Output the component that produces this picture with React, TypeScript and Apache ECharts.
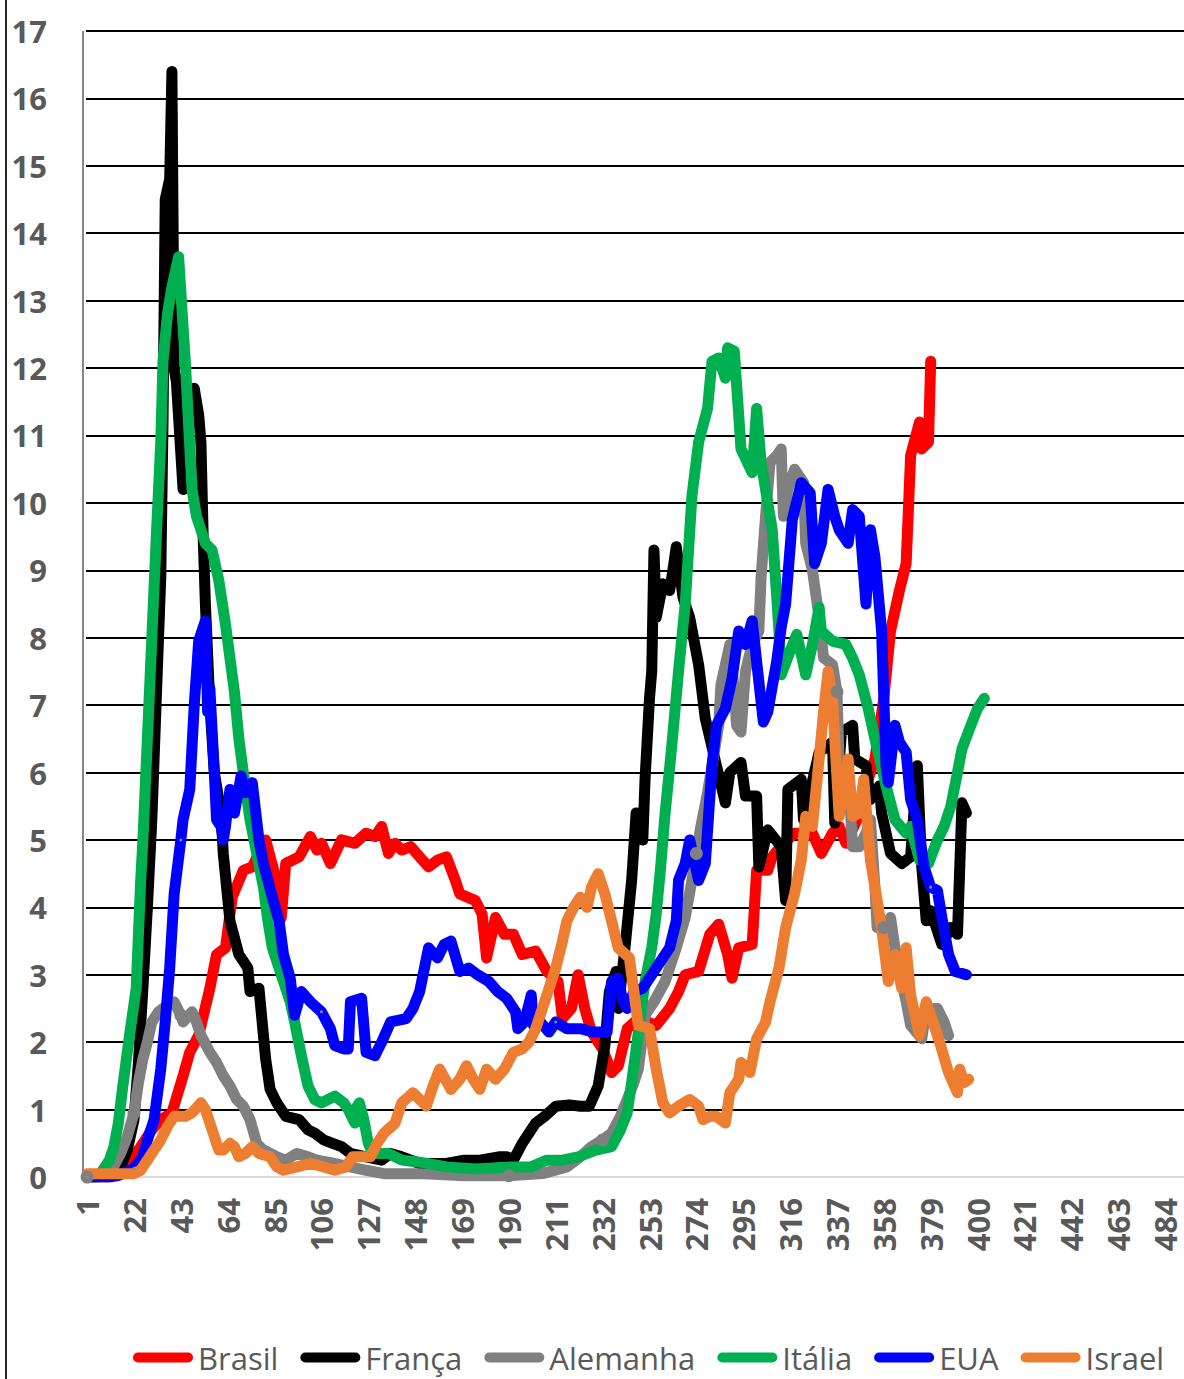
import React, { useEffect, useRef } from "react";
import * as echarts from "echarts";

// Category axis: day numbers
const dayCount = 492;
const categories: string[] = Array.from({ length: dayCount }, (_, i) => String(i + 1));
const yMax = 17;

// [day, value] pairs
const brasil: number[][] = [
  [1, 0], [12, 0], [18, 0.1], [22, 0.3], [25, 0.45], [30, 0.7], [34, 0.85], [39, 0.95], [44, 1.5], [47, 1.85],
  [51, 2.1], [56, 2.8], [59, 3.3], [63, 3.4], [66, 4.15], [71, 4.55], [75, 4.6], [81, 5.0], [85, 4.5], [88, 3.85],
  [90, 4.65], [96, 4.75], [101, 5.05], [104, 4.85], [106, 4.95], [110, 4.65], [115, 5.0], [121, 4.95], [126, 5.1],
  [130, 5.05], [133, 5.2], [136, 4.8], [139, 4.95], [142, 4.85], [146, 4.9], [150, 4.75], [154, 4.6], [158, 4.7],
  [162, 4.75], [166, 4.4], [168, 4.2], [175, 4.1], [178, 3.9], [180, 3.25], [184, 3.85], [188, 3.6], [192, 3.6],
  [196, 3.3], [202, 3.35], [207, 3.05], [212, 2.9], [214, 2.35], [218, 2.5], [221, 3.0], [224, 2.5], [227, 2.15],
  [232, 1.9], [236, 1.55], [239, 1.65], [243, 2.2], [248, 2.35], [252, 2.3], [256, 2.25], [262, 2.5], [266, 2.75],
  [269, 3.0], [275, 3.05], [280, 3.6], [284, 3.75], [288, 3.3], [290, 2.95], [293, 3.4], [299, 3.45], [301, 4.55],
  [306, 4.55], [308, 4.75], [313, 4.95], [318, 5.1], [326, 5.1], [330, 4.8], [335, 5.1], [338, 5.2], [341, 4.95],
  [346, 5.3], [350, 5.8], [354, 6.2], [358, 7.1], [361, 8.1], [365, 8.7], [368, 9.1], [370, 10.7], [374, 11.2],
  [375, 10.8], [378, 10.9], [379, 12.1],
];

const franca: number[][] = [
  [1, 0], [11, 0], [16, 0.15], [19, 0.4], [22, 0.85], [24, 1.7], [26, 2.8], [28, 4.0], [30, 5.3], [32, 7.1],
  [34, 8.9], [35, 11.2], [36, 14.5], [38, 14.8], [39, 16.4], [40, 12.0], [41, 11.8], [44, 10.2], [46, 11.6],
  [49, 11.7], [51, 11.3], [52, 10.9], [53, 9.5], [54, 8.5], [56, 7.0], [58, 6.0], [61, 5.4], [62, 4.8], [65, 3.8],
  [69, 3.3], [73, 3.1], [74, 2.75], [78, 2.8], [81, 1.75], [83, 1.3], [86, 1.1], [90, 0.9], [96, 0.85], [100, 0.7],
  [103, 0.65], [107, 0.55], [111, 0.5], [115, 0.45], [119, 0.35], [126, 0.3], [133, 0.25], [137, 0.35], [142, 0.3],
  [150, 0.2], [162, 0.2], [170, 0.25], [177, 0.25], [186, 0.3], [189, 0.3], [192, 0.25], [196, 0.5], [202, 0.8],
  [206, 0.9], [211, 1.05], [217, 1.07], [222, 1.05], [226, 1.05], [230, 1.35], [233, 1.95], [235, 2.75], [238, 3.05],
  [239, 2.5], [242, 3.4], [245, 4.4], [247, 5.4], [250, 5.0], [251, 5.9], [253, 7.1], [254, 7.5], [255, 9.3],
  [256, 8.3], [259, 8.8], [262, 8.7], [263, 8.9], [265, 9.35], [268, 8.6], [271, 8.3], [275, 7.6], [278, 6.8],
  [283, 6.1], [287, 5.55], [289, 6.0], [294, 6.15], [296, 5.65], [301, 5.65], [302, 4.6], [306, 5.15], [312, 4.9],
  [314, 4.1], [315, 5.75], [321, 5.9], [322, 5.3], [329, 6.3], [335, 6.45], [336, 5.25], [339, 6.6], [344, 6.7],
  [345, 6.2], [350, 6.1], [352, 5.6], [356, 5.8], [357, 5.4], [361, 4.8], [366, 4.65], [370, 4.75], [373, 6.1],
  [375, 4.6], [377, 3.8], [379, 3.95], [384, 3.45], [388, 3.7], [391, 3.6], [393, 5.55], [395, 5.4],
];

const alemanha: number[][] = [
  [1, 0], [12, 0.1], [16, 0.35], [19, 0.6], [22, 0.95], [24, 1.4], [26, 1.75], [28, 2.0], [30, 2.3], [33, 2.45],
  [35, 2.5], [40, 2.6], [43, 2.4], [44, 2.3], [48, 2.45], [50, 2.3], [52, 2.1], [56, 1.85], [59, 1.7], [62, 1.5],
  [65, 1.35], [68, 1.15], [71, 1.05], [74, 0.85], [77, 0.5], [80, 0.4], [86, 0.3], [90, 0.25], [95, 0.35], [100, 0.3],
  [104, 0.25], [112, 0.2], [119, 0.15], [126, 0.1], [134, 0.05], [150, 0.05], [170, 0.02], [190, 0.02], [205, 0.05],
  [216, 0.15], [222, 0.3], [227, 0.45], [232, 0.55], [236, 0.65], [240, 0.9], [243, 1.15], [246, 1.4], [248, 1.6],
  [251, 2.4], [255, 2.6], [260, 2.9], [265, 3.4], [269, 3.85], [272, 4.4], [274, 4.8], [276, 5.2], [279, 5.7],
  [281, 6.1], [284, 6.7], [285, 7.3], [287, 7.6], [289, 7.9], [291, 7.2], [292, 6.7], [294, 6.6], [296, 7.5],
  [299, 7.9], [302, 8.1], [303, 8.9], [305, 9.8], [307, 10.6], [310, 10.7], [312, 10.8], [313, 9.8], [315, 10.2],
  [318, 10.5], [322, 10.3], [323, 9.4], [326, 9.0], [329, 8.3], [331, 7.7], [335, 7.6], [337, 7.2], [338, 6.1],
  [342, 6.0], [344, 4.9], [347, 4.9], [350, 5.1], [352, 5.3], [354, 4.3], [355, 3.7], [358, 3.7], [361, 3.85],
  [363, 3.4], [366, 2.9], [368, 2.6], [370, 2.25], [375, 2.05], [377, 2.5], [382, 2.5], [385, 2.3], [387, 2.1],
];

const italia: number[][] = [
  [1, 0], [6, 0], [8, 0.1], [11, 0.25], [13, 0.45], [15, 0.8], [17, 1.35], [20, 2.1], [23, 2.8], [25, 4.4],
  [26, 5.0], [28, 6.5], [30, 8.0], [32, 9.5], [34, 10.9], [35, 12.1], [37, 12.8], [39, 13.2], [42, 13.65],
  [45, 12.1], [48, 10.2], [50, 9.8], [54, 9.4], [57, 9.3], [60, 8.85], [63, 8.2], [65, 7.7], [67, 7.2], [69, 6.5],
  [72, 5.75], [74, 5.3], [77, 4.8], [80, 4.3], [82, 3.8], [84, 3.4], [87, 3.1], [89, 2.9], [92, 2.6], [94, 2.3],
  [97, 1.8], [100, 1.35], [103, 1.15], [106, 1.1], [109, 1.15], [112, 1.2], [116, 1.1], [118, 1.0], [121, 0.8],
  [122, 1.05], [123, 1.1], [125, 0.85], [127, 0.5], [129, 0.35], [136, 0.35], [142, 0.25], [150, 0.22], [162, 0.15],
  [175, 0.12], [191, 0.15], [200, 0.15], [207, 0.25], [214, 0.25], [221, 0.3], [229, 0.4], [236, 0.45], [240, 0.7],
  [243, 0.95], [245, 1.4], [247, 1.9], [249, 2.4], [251, 2.9], [254, 3.4], [256, 3.9], [258, 4.6], [260, 5.4],
  [263, 6.4], [266, 7.5], [269, 8.5], [272, 10.1], [275, 10.9], [279, 11.4], [281, 12.1], [284, 12.15], [287, 11.85],
  [288, 12.3], [291, 12.25], [294, 10.8], [299, 10.45], [301, 11.4], [303, 10.6], [308, 9.6], [311, 8.1], [312, 7.45],
  [316, 7.8], [319, 8.05], [323, 7.45], [326, 7.9], [329, 8.45], [330, 8.1], [335, 7.95], [341, 7.9], [344, 7.7],
  [347, 7.45], [351, 6.95], [354, 6.5], [359, 5.8], [363, 5.3], [368, 5.1], [370, 5.2], [374, 4.7], [378, 4.65],
  [382, 5.0], [385, 5.2], [388, 5.5], [391, 6.0], [393, 6.35], [397, 6.7], [400, 6.95], [403, 7.1],
];

const eua: number[][] = [
  [1, 0], [15, 0.02], [22, 0.13], [26, 0.3], [28, 0.55], [31, 0.85], [34, 1.6], [36, 2.3], [38, 3.1], [40, 4.2],
  [43, 5.0], [44, 5.3], [46, 5.6], [47, 5.75], [49, 7.0], [51, 7.95], [54, 8.25], [55, 6.9], [56, 7.25], [58, 6.0],
  [59, 5.3], [61, 5.2], [62, 5.0], [63, 5.2], [65, 5.75], [67, 5.4], [70, 5.95], [72, 5.7], [75, 5.85], [78, 5.0],
  [80, 4.65], [84, 4.15], [87, 3.8], [89, 3.3], [92, 2.95], [94, 2.4], [97, 2.75], [101, 2.6], [106, 2.45], [110, 2.2],
  [112, 1.95], [116, 1.9], [118, 1.9], [119, 2.6], [124, 2.65], [126, 1.85], [130, 1.8], [133, 2.0], [137, 2.3],
  [144, 2.35], [147, 2.5], [150, 2.75], [154, 3.4], [158, 3.25], [161, 3.45], [164, 3.5], [168, 3.05], [172, 3.1],
  [176, 3.0], [181, 2.9], [185, 2.75], [189, 2.65], [193, 2.45], [194, 2.2], [197, 2.3], [200, 2.7], [201, 2.25],
  [204, 2.3], [208, 2.15], [211, 2.3], [216, 2.2], [222, 2.2], [228, 2.15], [234, 2.15], [236, 2.9], [239, 2.95],
  [241, 2.6], [243, 2.5], [246, 2.75], [250, 2.8], [254, 3.0], [258, 3.2], [262, 3.4], [265, 3.8], [266, 4.4],
  [269, 4.65], [271, 5.0], [273, 4.7], [275, 4.4], [278, 4.65], [281, 6.1], [283, 6.7], [287, 6.95], [290, 7.4],
  [293, 8.1], [296, 7.9], [299, 8.25], [302, 7.35], [304, 6.75], [306, 6.9], [310, 7.65], [312, 8.15], [314, 8.5],
  [317, 9.75], [321, 10.3], [325, 10.15], [327, 9.1], [330, 9.4], [333, 10.2], [336, 9.8], [338, 9.6], [342, 9.4],
  [344, 9.9], [347, 9.8], [350, 8.5], [352, 9.6], [354, 9.2], [357, 8.1], [359, 6.1], [360, 5.85], [363, 6.7],
  [365, 6.45], [368, 6.3], [370, 5.6], [373, 5.3], [376, 4.6], [379, 4.3], [382, 4.25], [384, 3.85], [387, 3.3],
  [390, 3.05], [395, 3.0],
];

const israel: number[][] = [
  [1, 0.05], [22, 0.05], [25, 0.1], [27, 0.2], [31, 0.4], [34, 0.55], [37, 0.75], [40, 0.9], [45, 0.9], [48, 0.95],
  [52, 1.1], [54, 1.0], [57, 0.7], [60, 0.4], [62, 0.4], [65, 0.5], [67, 0.45], [69, 0.3], [72, 0.35], [75, 0.45],
  [78, 0.35], [83, 0.3], [86, 0.15], [89, 0.1], [95, 0.15], [101, 0.2], [107, 0.15], [112, 0.1], [117, 0.15],
  [120, 0.3], [125, 0.3], [128, 0.3], [131, 0.5], [134, 0.65], [139, 0.8], [142, 1.1], [147, 1.25], [150, 1.15],
  [153, 1.05], [156, 1.35], [159, 1.6], [164, 1.3], [168, 1.45], [171, 1.65], [174, 1.45], [177, 1.3], [180, 1.6],
  [184, 1.45], [188, 1.6], [192, 1.85], [196, 1.9], [199, 2.0], [202, 2.2], [205, 2.5], [208, 2.8], [211, 3.1],
  [214, 3.5], [216, 3.8], [219, 4.0], [222, 4.15], [225, 4.0], [227, 4.3], [230, 4.5], [233, 4.2], [236, 3.8],
  [239, 3.4], [244, 3.25], [248, 2.25], [253, 2.2], [256, 1.6], [259, 1.1], [262, 0.95], [266, 1.05], [271, 1.15],
  [275, 1.05], [277, 0.85], [280, 0.9], [283, 0.9], [287, 0.8], [289, 1.25], [293, 1.45], [294, 1.7], [298, 1.55],
  [301, 2.05], [305, 2.3], [307, 2.6], [311, 3.1], [314, 3.7], [318, 4.2], [321, 4.7], [323, 5.35], [326, 5.2],
  [329, 6.2], [331, 6.9], [333, 7.5], [335, 7.1], [336, 6.5], [338, 5.35], [342, 6.2], [344, 5.35], [347, 5.4],
  [349, 5.9], [352, 4.7], [355, 4.1], [357, 3.7], [360, 2.9], [363, 3.3], [366, 2.8], [368, 3.4], [370, 2.7],
  [374, 2.1], [377, 2.6], [379, 2.4], [383, 2.0], [387, 1.55], [391, 1.25], [392, 1.6], [394, 1.4], [396, 1.45],
];

const seriesNames = ["Brasil", "França", "Alemanha", "Itália", "EUA", "Israel"];
const seriesColors = ["#FF0000", "#000000", "#808080", "#00B050", "#0000FF", "#ED7D31"];

const FONT = "'Open Sans', 'Noto Sans', sans-serif";
const GRID_LEFT = 86;
const GRID_TOP = 31;
const GRID_BOTTOM_Y = 1177;

export default function App() {
  const ref = useRef<HTMLDivElement>(null);

  useEffect(() => {
    if (!ref.current) return;
    const chart = echarts.init(ref.current, undefined, { renderer: "svg" });

    const toData = (arr: number[][]) => arr.map(([d, v]) => [d - 1, v]);
    const LW = 11;
    const lineStyleOf = (color: string, width: number) => ({
      color,
      width,
      type: "solid",
      cap: "round",
      join: "round",
      opacity: 1,
    });
    const plain = (i: number, arr: number[][]) => ({
      name: seriesNames[i],
      type: "line",
      data: toData(arr),
      symbol: "none",
      showSymbol: false,
      silent: true,
      lineStyle: lineStyleOf(seriesColors[i], LW),
      itemStyle: { color: seriesColors[i] },
    });

    const splitColors = Array.from({ length: yMax + 1 }, (_, i) => (i === 0 ? "#D9D9D9" : "#000000"));

    const legendIcon = "path://M5,0 L55,0 A5,5 0 0 1 55,10 L5,10 A5,5 0 0 1 5,0 Z";

    chart.setOption({
      animation: false,
      backgroundColor: "#ffffff",
      grid: { left: GRID_LEFT, right: -3, top: GRID_TOP, bottom: 1379 - GRID_BOTTOM_Y, containLabel: false },
      graphic: [
        {
          type: "line",
          shape: { x1: 6, y1: 0, x2: 6, y2: 1379 },
          style: { stroke: "#262626", lineWidth: 2 },
          silent: true,
        },
        {
          type: "line",
          shape: { x1: 83, y1: GRID_TOP, x2: 83, y2: GRID_BOTTOM_Y },
          style: { stroke: "#868686", lineWidth: 2 },
          silent: true,
          z: 1,
        },
      ],
      legend: {
        left: 128,
        top: 1337,
        width: 1100,
        itemWidth: 60,
        itemHeight: 10,
        itemGap: 22,
        textStyle: { fontFamily: FONT, fontSize: 31, color: "#595959" },
        selectedMode: false,
        data: seriesNames.map((n, i) => ({ name: n, icon: legendIcon, itemStyle: { color: seriesColors[i] } })),
      },
      xAxis: {
        type: "category",
        data: categories,
        boundaryGap: true,
        axisLine: { show: true, lineStyle: { color: "#D9D9D9", width: 2 } },
        axisTick: { show: false },
        splitLine: { show: false },
        axisLabel: {
          interval: 20,
          rotate: 90,
          margin: 21,
          lineHeight: 30,
          fontFamily: FONT,
          fontSize: 31,
          fontWeight: "bold",
          color: "#595959",
        },
      },
      yAxis: {
        type: "value",
        min: 0,
        max: yMax,
        interval: 1,
        axisLine: { show: false },
        axisTick: { show: false },
        splitLine: { show: true, lineStyle: { color: splitColors, width: 2 } },
        axisLabel: {
          margin: 39,
          fontFamily: FONT,
          fontSize: 31,
          fontWeight: "bold",
          color: "#595959",
        },
      },
      series: [
        plain(0, brasil),
        plain(1, franca),
        {
          name: seriesNames[2],
          type: "line",
          data: toData(alemanha),
          symbol: "circle",
          symbolSize: 13,
          showSymbol: true,
          silent: true,
          lineStyle: lineStyleOf(seriesColors[2], LW),
          itemStyle: { color: seriesColors[2], borderWidth: 0 },
        },
        plain(3, italia),
        {
          name: seriesNames[4],
          type: "line",
          data: toData(eua),
          symbol: "circle",
          symbolSize: 3,
          showSymbol: true,
          silent: true,
          lineStyle: lineStyleOf(seriesColors[4], LW),
          itemStyle: { color: "#8C8C8C", borderWidth: 0 },
        },
        plain(5, israel),
      ],
    });

    return () => chart.dispose();
  }, []);

  return (
    <div
      ref={ref}
      style={{ position: "absolute", left: 0, top: 0, width: 1184, height: 1379, background: "#ffffff" }}
    />
  );
}
